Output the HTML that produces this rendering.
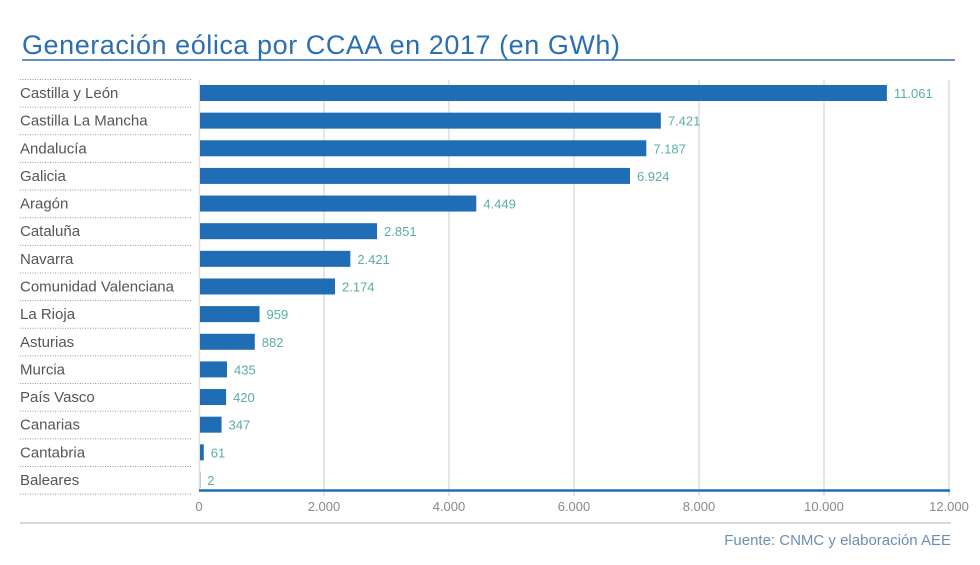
<!DOCTYPE html>
<html><head><meta charset="utf-8"><style>
body{margin:0;background:#fff;width:980px;height:565px;overflow:hidden}
svg{display:block;font-family:"Liberation Sans",sans-serif}
</style></head><body>
<svg width="980" height="565" viewBox="0 0 980 565">
<text x="22" y="54" font-size="27" fill="#2b6fb3" textLength="598" lengthAdjust="spacing">Generación eólica por CCAA en 2017 (en GWh)</text>
<line x1="22" y1="60" x2="955" y2="60" stroke="#2b6fb3" stroke-width="1.5"/>
<g stroke="#ddd" stroke-width="1.5">
<line x1="199.5" y1="80" x2="199.5" y2="490"/>
<line x1="324" y1="80" x2="324" y2="496"/>
<line x1="449" y1="80" x2="449" y2="496"/>
<line x1="574" y1="80" x2="574" y2="496"/>
<line x1="699" y1="80" x2="699" y2="496"/>
<line x1="824" y1="80" x2="824" y2="496"/>
<line x1="949" y1="80" x2="949" y2="496"/>
</g>
<g id="rows" font-size="15"></g>
<line x1="199" y1="490.5" x2="950" y2="490.5" stroke="#1f6db5" stroke-width="2.5"/>
<g font-size="13" fill="#888" text-anchor="middle">
<text x="199" y="511">0</text><text x="324" y="511">2.000</text><text x="449" y="511">4.000</text>
<text x="574" y="511">6.000</text><text x="699" y="511">8.000</text><text x="824" y="511">10.000</text><text x="949" y="511">12.000</text>
</g>
<line x1="20" y1="523" x2="951" y2="523" stroke="#ccc" stroke-width="1.5"/>
<text x="951" y="545" font-size="15" fill="#6b8fb3" text-anchor="end">Fuente: CNMC y elaboración AEE</text>
</svg>
<script>
var d=[["Castilla y León",11061],["Castilla La Mancha",7421],["Andalucía",7187],["Galicia",6924],["Aragón",4449],["Cataluña",2851],["Navarra",2421],["Comunidad Valenciana",2174],["La Rioja",959],["Asturias",882],["Murcia",435],["País Vasco",420],["Canarias",347],["Cantabria",61],["Baleares",2]];
var g=document.getElementById('rows'),h='';
function f(v){return v>=1000?Math.floor(v/1000)+'.'+String(v%1000).padStart(3,'0'):String(v)}
d.forEach(function(r,i){var c=93+i*27.64,w=Math.max(r[1]*0.0621,0.3);
h+='<line x1="20" x2="192" y1="'+(c-13.5)+'" y2="'+(c-13.5)+'" stroke="#999" stroke-width="1" stroke-dasharray="1,1.5"/>';
h+='<text x="20" y="'+(c+5)+'" fill="#555">'+r[0]+'</text>';
h+='<rect x="200" y="'+(c-8)+'" width="'+w+'" height="16" fill="#1f6db5"/>';
h+='<text x="'+(200+w+7)+'" y="'+(c+5)+'" font-size="13" fill="#5aaea4">'+f(r[1])+'</text>';});
h+='<line x1="20" x2="192" y1="'+(93+15*27.64-13.5)+'" y2="'+(93+15*27.64-13.5)+'" stroke="#999" stroke-width="1" stroke-dasharray="1,1.5"/>';
g.innerHTML=h;
</script>
</body></html>
